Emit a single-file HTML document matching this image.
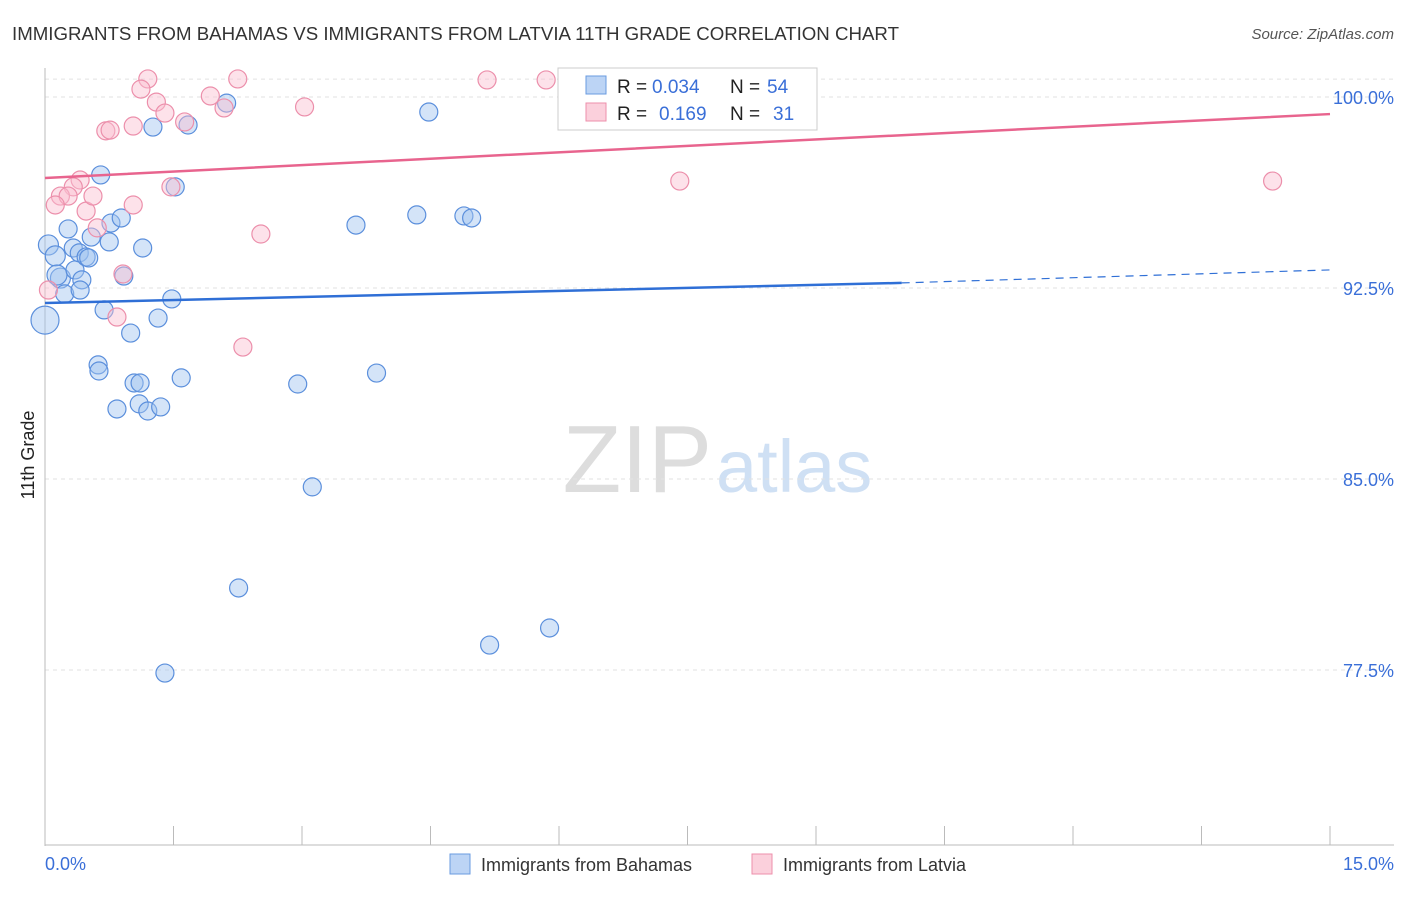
<!DOCTYPE html>
<html><head><meta charset="utf-8"><style>
body{margin:0;background:#fff;font-family:"Liberation Sans",sans-serif;}
svg text{font-family:"Liberation Sans",sans-serif;}
</style></head><body>
<svg width="1406" height="892" xmlns="http://www.w3.org/2000/svg">
<text x="12" y="40" font-size="18" fill="#333" textLength="887" lengthAdjust="spacingAndGlyphs">IMMIGRANTS FROM BAHAMAS VS IMMIGRANTS FROM LATVIA 11TH GRADE CORRELATION CHART</text>
<text x="1394" y="39" font-size="15" fill="#555" font-style="italic" text-anchor="end">Source: ZipAtlas.com</text>
<text x="712" y="492" font-size="96" fill="#ddd" text-anchor="end" font-family="Liberation Serif">ZIP</text>
<text x="716" y="492" font-size="74" fill="#cfe0f4">atlas</text>
<g id="grid"></g>
<line x1="45" y1="68" x2="45" y2="846" stroke="#bbb"/>
<line x1="45" y1="845" x2="1394" y2="845" stroke="#bbb"/>
<g id="xticks"></g>
<text x="34" y="455" font-size="18" fill="#222" transform="rotate(-90 34 455)" text-anchor="middle">11th Grade</text>
<text x="45" y="870" font-size="18" fill="#3a6fd8">0.0%</text>
<text x="1394" y="870" font-size="18" fill="#3a6fd8" text-anchor="end">15.0%</text>
<g id="pts"></g>
<g id="lines"></g>
<g>
<rect x="558" y="68" width="259" height="62" fill="#fff" stroke="#ccc"/>
<rect x="586" y="76" width="20" height="18" fill="#bcd4f5" stroke="#6a9be0"/>
<rect x="586" y="103" width="20" height="18" fill="#fbd0dc" stroke="#ee8fab"/>
<text x="617" y="93" font-size="19" fill="#222">R =</text>
<text x="652" y="93" font-size="19" fill="#3a6fd8">0.034</text>
<text x="730" y="93" font-size="19" fill="#222">N =</text>
<text x="767" y="93" font-size="19" fill="#3a6fd8">54</text>
<text x="617" y="120" font-size="19" fill="#222">R =</text>
<text x="659" y="120" font-size="19" fill="#3a6fd8">0.169</text>
<text x="730" y="120" font-size="19" fill="#222">N =</text>
<text x="773" y="120" font-size="19" fill="#3a6fd8">31</text>
</g>
<g>
<rect x="450" y="854" width="20" height="20" fill="#bcd4f5" stroke="#6a9be0"/>
<text x="481" y="871" font-size="18" fill="#333">Immigrants from Bahamas</text>
<rect x="752" y="854" width="20" height="20" fill="#fbd0dc" stroke="#ee8fab"/>
<text x="783" y="871" font-size="18" fill="#333">Immigrants from Latvia</text>
</g>
</svg>
<script>
const yTicks=[100,92.5,85,77.5];
const yTickLabels=["100.0%","92.5%","85.0%","77.5%"];
const bahamasX=[0,0.04,0.12,0.18,0.14,0.23,0.27,0.33,0.35,0.40,0.43,0.48,0.51,0.54,0.65,0.69,0.75,0.77,0.89,0.62,0.63,0.84,0.92,1.00,1.04,1.11,1.10,1.20,1.35,1.14,1.26,1.32,1.48,1.52,1.59,1.67,2.12,2.26,2.95,3.12,3.63,3.87,4.34,4.48,4.89,4.98,5.19,5.89,1.40,6.83,8.85,0.41];
const bahamasY=[91.24,94.19,93.76,92.89,93.01,92.27,94.82,94.07,93.21,93.88,92.82,93.72,93.68,94.50,96.94,91.64,94.31,95.05,95.25,89.48,89.24,87.75,92.97,90.73,88.77,88.77,87.95,87.67,87.83,94.07,98.82,91.32,92.07,96.47,88.97,98.90,99.76,80.72,88.73,84.69,94.97,89.16,95.37,99.41,95.33,95.25,78.48,79.15,77.38,100.67,100.67,92.42];
const bahamasR=[14,10,10,10,10,9,9,9,9,9,9,9,9,9,9,9,9,9,9,9,9,9,9,9,9,9,9,9,9,9,9,9,9,9,9,9,9,9,9,9,9,9,9,9,9,9,9,9,9,9,9,9];
const latviaX=[1.20,1.12,1.30,1.40,2.25,1.93,2.09,1.63,0.71,0.76,1.03,3.03,5.16,5.85,0.41,0.33,0.18,0.27,0.12,0.48,0.56,1.03,0.61,1.47,2.52,0.91,0.84,2.31,7.41,14.33,0.04];
const latviaY=[100.71,100.31,99.80,99.37,100.71,100.04,99.57,99.02,98.67,98.70,98.86,99.61,100.67,100.67,96.74,96.47,96.11,96.11,95.76,95.52,96.11,95.76,94.86,96.47,94.62,93.05,91.36,90.18,96.70,96.70,92.42];
const trendX=[0,10,15];
const bahamasTrend=[91.91,92.70,93.21];
const latviaTrend=[96.82,98.5,99.33];
const NS="http://www.w3.org/2000/svg";
const xs=v=>45+v*(1285/15);
const ys=v=>97+(100-v)*(191/7.5);
function mk(t,a,p){const e=document.createElementNS(NS,t);for(const k in a)e.setAttribute(k,a[k]);p.appendChild(e);return e;}
const grid=document.getElementById('grid');
yTicks.forEach((v,i)=>{
 const l=mk('line',{x1:45,x2:1394,y1:ys(v),y2:ys(v),stroke:'#e2e2e2','stroke-dasharray':'4,4'},grid);
 
 
 const t=mk('text',{x:1394,y:ys(v)+7,'font-size':18,fill:'#3a6fd8','text-anchor':'end'},grid);
 t.textContent=yTickLabels[i];
 
 
});
{const l=mk('line',{x1:45,x2:1394,y1:ys(100.7),y2:ys(100.7),stroke:'#e2e2e2','stroke-dasharray':'4,4'},grid);
 
 }
const xt=document.getElementById('xticks');
for(let i=0;i<=10;i++){const l=mk('line',{x1:xs(i*1.5),x2:xs(i*1.5),y1:826,y2:845,stroke:'#bbb'},xt);
 
 }
const pts=document.getElementById('pts');
bahamasX.forEach((x,i)=>{const c=mk('circle',{cx:xs(x),cy:ys(bahamasY[i]),r:bahamasR[i],fill:'rgba(160,195,240,0.45)',stroke:'#5b8fdc','stroke-width':1.2},pts);
 
 });
latviaX.forEach((x,i)=>{const c=mk('circle',{cx:xs(x),cy:ys(latviaY[i]),r:9,fill:'rgba(250,190,208,0.45)',stroke:'#ec8fab','stroke-width':1.2},pts);
 
 });
const ln=document.getElementById('lines');
let a=mk('line',{x1:xs(trendX[0]),y1:ys(bahamasTrend[0]),x2:xs(trendX[1]),y2:ys(bahamasTrend[1]),stroke:'#2f6fd6','stroke-width':2.5},ln);


a=mk('line',{x1:xs(trendX[1]),y1:ys(bahamasTrend[1]),x2:xs(trendX[2]),y2:ys(bahamasTrend[2]),stroke:'#2f6fd6','stroke-width':1.2,'stroke-dasharray':'8,6'},ln);


a=mk('polyline',{points:trendX.map((x,i)=>xs(x)+','+ys(latviaTrend[i])).join(' '),stroke:'#e8648e','stroke-width':2.5,fill:'none'},ln);


</script>
</body></html>
